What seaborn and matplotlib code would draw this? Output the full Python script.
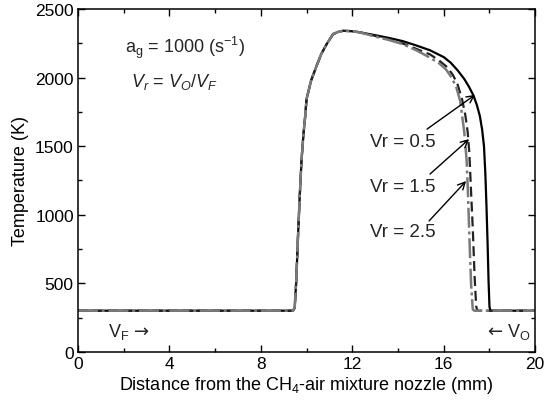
import matplotlib
matplotlib.use("Agg")
import matplotlib.pyplot as plt
import seaborn as sns
import pandas as pd
from matplotlib.ticker import MultipleLocator

# ---- data ----
x_vr05 = [0.0, 9.40, 9.48, 9.55, 9.62, 9.70, 9.78, 9.86, 9.93, 10.0, 10.2, 10.44, 10.65, 10.88, 11.16, 11.4, 11.6, 11.9, 12.3,
          13.0, 13.6, 14.2, 14.8, 15.4, 16.0, 16.3, 16.6, 16.9, 17.1, 17.3, 17.45, 17.58, 17.68, 17.76, 17.82, 17.87, 17.92, 17.96, 18.0, 18.04, 20.0]
T_vr05 = [300, 300, 320, 520, 820, 1130, 1400, 1580, 1700, 1844, 1980, 2087, 2175, 2245, 2318, 2335, 2342, 2340, 2332,
          2310, 2290, 2267, 2235, 2200, 2150, 2110, 2055, 1990, 1935, 1870, 1800, 1720, 1620, 1500, 1300, 1060, 780, 520, 330, 300, 300]

x_vr15 = [0.0, 9.40, 9.48, 9.55, 9.62, 9.70, 9.78, 9.86, 9.93, 10.0, 10.2, 10.44, 10.65, 10.88, 11.16, 11.4, 11.6, 11.9, 12.3,
          13.0, 13.6, 14.2, 14.8, 15.4, 15.8, 16.15, 16.4, 16.6, 16.8, 16.95, 17.05, 17.12, 17.2, 17.27, 17.35, 17.42, 17.47, 20.0]
T_vr15 = [300, 300, 320, 520, 820, 1130, 1400, 1580, 1700, 1844, 1980, 2087, 2175, 2245, 2318, 2335, 2342, 2340, 2332,
          2305, 2280, 2250, 2210, 2170, 2125, 2077, 2020, 1953, 1844, 1720, 1600, 1450, 1150, 900, 550, 330, 300, 300]

x_vr25 = [0.0, 9.40, 9.48, 9.55, 9.62, 9.70, 9.78, 9.86, 9.93, 10.0, 10.2, 10.44, 10.65, 10.88, 11.16, 11.4, 11.6, 11.9, 12.3,
          13.0, 13.6, 14.2, 14.8, 15.3, 15.8, 16.1, 16.35, 16.55, 16.72, 16.9, 17.0, 17.05, 17.1, 17.15, 17.2, 17.27, 17.33, 20.0]
T_vr25 = [300, 300, 320, 520, 820, 1130, 1400, 1580, 1700, 1844, 1980, 2087, 2175, 2245, 2318, 2335, 2342, 2340, 2332,
          2300, 2275, 2245, 2200, 2155, 2105, 2060, 2000, 1930, 1830, 1600, 1400, 1200, 950, 700, 480, 310, 300, 300]

x_ticks = [0, 4, 8, 12, 16, 20]
y_ticks = [0, 500, 1000, 1500, 2000, 2500]

sns.set_theme(style="white")
plt.rcParams['font.family'] = ['Liberation Sans', 'DejaVu Sans']
plt.rcParams['mathtext.fontset'] = 'custom'
plt.rcParams['mathtext.rm'] = 'Liberation Sans'
plt.rcParams['mathtext.it'] = 'Liberation Sans:italic'
plt.rcParams['mathtext.sf'] = 'DejaVu Sans'
plt.rcParams['mathtext.default'] = 'rm'

fig = plt.figure(figsize=(5.45, 4.06), dpi=100)
ax = fig.add_axes([0.143, 0.131, 0.839, 0.844])

df05 = pd.DataFrame({"x": x_vr05, "T": T_vr05})
df15 = pd.DataFrame({"x": x_vr15, "T": T_vr15})
df25 = pd.DataFrame({"x": x_vr25, "T": T_vr25})

sns.lineplot(data=df05, x="x", y="T", ax=ax, color="black", lw=1.6, sort=False, estimator=None)
sns.lineplot(data=df15, x="x", y="T", ax=ax, color="#222222", lw=1.6, sort=False, estimator=None,
             linestyle=(0, (4.5, 2.2)))
sns.lineplot(data=df25, x="x", y="T", ax=ax, color="#7a7a7a", lw=1.8, sort=False, estimator=None,
             linestyle=(0, (8, 1.5, 1.2, 1.5)))

ax.set_xlim(0, 20)
ax.set_ylim(0, 2500)
ax.set_xticks(x_ticks)
ax.set_yticks(y_ticks)
ax.xaxis.set_minor_locator(MultipleLocator(2))
ax.yaxis.set_minor_locator(MultipleLocator(250))
ax.tick_params(which='both', direction='in', top=True, right=True, bottom=True, left=True,
               color='black', width=1.0)
ax.tick_params(which='major', length=5, labelsize=12.5, pad=3, labelcolor='black')
ax.tick_params(which='minor', length=3)
for s in ax.spines.values():
    s.set_color('black')
    s.set_linewidth(1.1)

ax.set_xlabel("Distance from the CH$_4$-air mixture nozzle (mm)", fontsize=13, color='black', labelpad=2)
ax.set_ylabel("Temperature (K)", fontsize=13, color='black', labelpad=4)

ax.text(2.05, 2223, "a$_\\mathrm{g}$ = 1000 (s$^{-1}$)", fontsize=13, va='center', ha='left')
ax.text(2.3, 1975, "$\\mathit{V_r}$ = $\\mathit{V_O}$/$\\mathit{V_F}$", fontsize=13, va='center', ha='left')

ax.text(14.2, 1538, "Vr = 0.5", fontsize=13.5, ha='center', va='center')
ax.text(14.2, 1203, "Vr = 1.5", fontsize=13.5, ha='center', va='center')
ax.text(14.2, 875, "Vr = 2.5", fontsize=13.5, ha='center', va='center')

arrowprops = dict(arrowstyle='->', color='black', lw=1.0, shrinkA=0, shrinkB=0, mutation_scale=13)
ax.annotate("", xy=(17.37, 1875), xytext=(15.27, 1625), arrowprops=arrowprops)
ax.annotate("", xy=(17.11, 1552), xytext=(15.4, 1297), arrowprops=arrowprops)
ax.annotate("", xy=(16.98, 1246), xytext=(15.36, 955), arrowprops=arrowprops)

ax.text(1.3, 153, "V$_\\mathrm{F}$ $\\mathsf{\u2192}$", fontsize=13, ha='left', va='center')
ax.text(19.8, 153, "$\\mathsf{\u2190}$ V$_\\mathrm{O}$", fontsize=13, ha='right', va='center')

fig.savefig("out.png", dpi=100)
